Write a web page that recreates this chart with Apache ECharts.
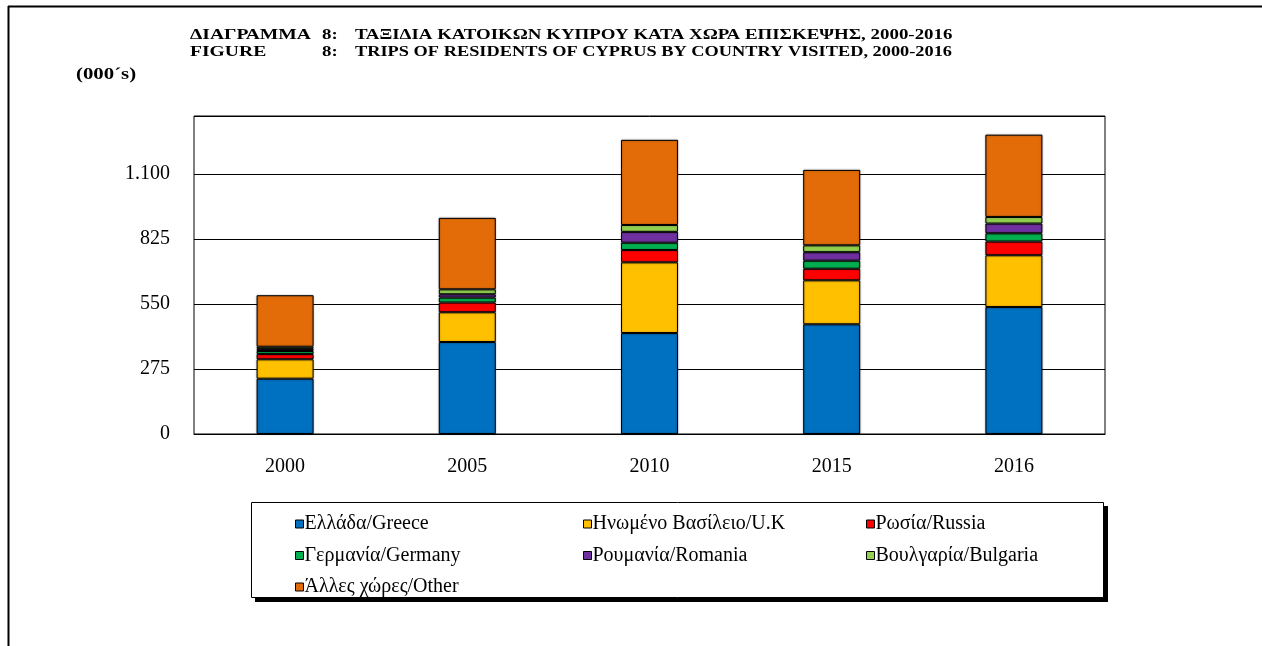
<!DOCTYPE html>
<html>
<head>
<meta charset="utf-8">
<script src="https://cdn.jsdelivr.net/npm/echarts@6/dist/echarts.min.js"></script>
<style>
html,body{margin:0;padding:0;background:#fff;}
#chart{width:1262px;height:646px;}
</style>
</head>
<body>
<div id="chart"></div>
<script>
var years = ['2000', '2005', '2010', '2015', '2016'];
var seriesNames = ['Ελλάδα/Greece', 'Ηνωμένο Βασίλειο/U.K', 'Ρωσία/Russia', 'Γερμανία/Germany', 'Ρουμανία/Romania', 'Βουλγαρία/Bulgaria', 'Άλλες χώρες/Other'];
var greece   = [234, 389, 427, 464, 537];
var uk       = [82, 126, 299, 186, 219];
var russia   = [22, 41, 52, 49, 58];
var germany  = [13, 21, 31, 34, 35];
var romania  = [9, 14, 46, 36, 41];
var bulgaria = [9, 21, 29, 29, 28];
var other    = [218, 302, 360, 319, 348];
var yTicks = [0, 275, 550, 825, 1100];
var colors = ['#0070C0', '#FFC000', '#FF0000', '#00B050', '#7030A0', '#92D050', '#E36C09'];
var allData = [greece, uk, russia, germany, romania, bulgaria, other];

var FONT = '"Liberation Serif", "DejaVu Serif", serif';
var chart = echarts.init(document.getElementById('chart'));

var series = seriesNames.map(function (n, i) {
  return {
    name: n,
    type: 'bar',
    stack: 'total',
    barWidth: 57,
    data: allData[i],
    itemStyle: {color: colors[i], borderColor: '#000', borderWidth: 1, shadowColor: 'rgba(0,0,0,0.35)', shadowBlur: 2},
    emphasis: {disabled: true}
  };
});

function legendCol(names, left) {
  return {
    data: names,
    orient: 'vertical',
    left: left,
    top: 507,
    itemWidth: 8,
    itemHeight: 8,
    itemGap: 7.5,
    icon: 'rect',
    selectedMode: false,
    itemStyle: {borderColor: '#000', borderWidth: 1},
    textStyle: {fontFamily: FONT, fontSize: 20, color: '#000', lineHeight: 24, padding: [0, 0, 0, -4]}
  };
}

function titleText(txt, x, y, size, sx) {
  return {type: 'text', x: x, y: y, scaleX: sx,
    style: {text: txt, font: 'bold ' + size + 'px ' + FONT, fill: '#000', align: 'left', verticalAlign: 'middle'}};
}

var option = {
  animation: false,
  color: colors,
  grid: {left: 194, right: 157, top: 116, bottom: 212, show: true, borderColor: '#000', borderWidth: 1, backgroundColor: 'transparent'},
  xAxis: {
    type: 'category',
    data: years,
    axisLine: {show: true, lineStyle: {color: '#000', width: 1}},
    axisTick: {show: false},
    axisLabel: {fontFamily: FONT, fontSize: 20, color: '#000', margin: 23}
  },
  yAxis: {
    type: 'value',
    min: 0,
    max: 1345,
    interval: 275,
    axisLine: {show: false},
    axisTick: {show: false},
    splitLine: {show: true, lineStyle: {color: '#000', width: 1}},
    axisLabel: {
      fontFamily: FONT, fontSize: 20, color: '#000', margin: 24,
      showMaxLabel: false,
      formatter: function (v) {
        if (yTicks.indexOf(v) < 0) return '';
        return String(v).replace(/\B(?=(\d{3})+(?!\d))/g, '.');
      }
    }
  },
  legend: [
    legendCol([seriesNames[0], seriesNames[3], seriesNames[6]], 290),
    legendCol([seriesNames[1], seriesNames[4]], 578),
    legendCol([seriesNames[2], seriesNames[5]], 861)
  ],
  graphic: [
    {type: 'line', shape: {x1: 8, y1: 6.5, x2: 1262, y2: 6.5}, style: {stroke: '#000', lineWidth: 2}},
    {type: 'line', shape: {x1: 8.5, y1: 6, x2: 8.5, y2: 646}, style: {stroke: '#000', lineWidth: 2}},
    {type: 'rect', z: -2, shape: {x: 255, y: 506, width: 853, height: 96}, style: {fill: '#000'}},
    {type: 'rect', z: -1, shape: {x: 251.5, y: 502.5, width: 852, height: 95}, style: {fill: '#fff', stroke: '#000', lineWidth: 1}},
    titleText('ΔΙΑΓΡΑΜΜΑ', 190, 35, 14, 1.4),
    titleText('8:', 322, 35, 14, 1.35),
    titleText('ΤΑΞΙΔΙΑ ΚΑΤΟΙΚΩΝ ΚΥΠΡΟΥ ΚΑΤΑ ΧΩΡΑ ΕΠΙΣΚΕΨΗΣ, 2000-2016', 355, 35, 14, 1.35),
    titleText('FIGURE', 190, 52, 14, 1.4),
    titleText('8:', 322, 52, 14, 1.35),
    titleText('TRIPS OF RESIDENTS OF CYPRUS BY COUNTRY VISITED, 2000-2016', 355, 52, 14, 1.31),
    titleText('(000´s)', 76, 75, 16, 1.3)
  ],
  series: series
};
chart.setOption(option);
</script>
</body>
</html>
